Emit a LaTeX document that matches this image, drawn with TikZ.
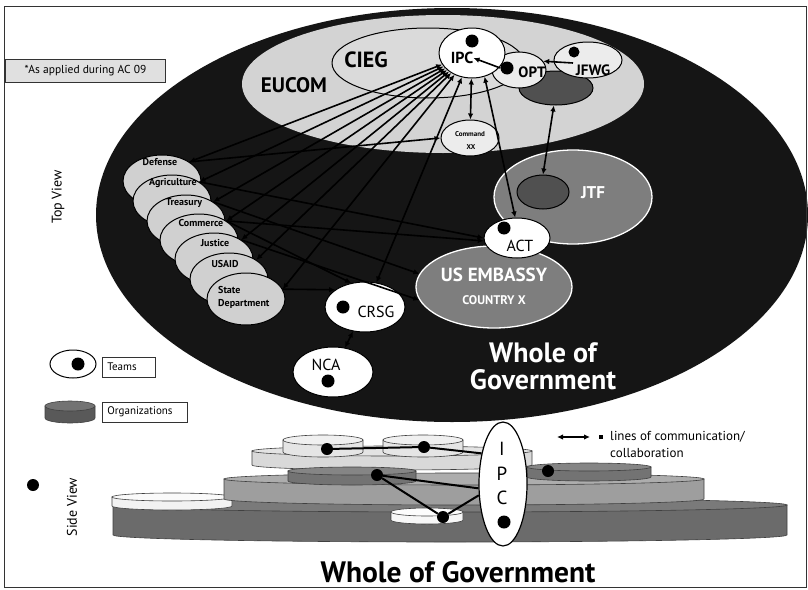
\documentclass[tikz,border=0pt]{standalone}
\usepackage{fontspec}
\setmainfont{PT Sans}
\usetikzlibrary{shapes.geometric,arrows.meta}
\definecolor{bg}{HTML}{151515}
\definecolor{eucom}{HTML}{D3D3D3}
\definecolor{cieg}{HTML}{DADADA}
\definecolor{agencygray}{HTML}{D0D0D0}
\definecolor{orggray}{HTML}{7E7E7E}
\definecolor{darkorg}{HTML}{505050}
\definecolor{lightfill}{HTML}{ECECEC}
\newcommand\orgdisk[7]{%
  \path[draw=black!75, line width=0.6pt, fill=#6] (#1-#2,#3) -- (#1-#2,#3+#5)
     arc[start angle=180, end angle=0, x radius=#2, y radius=#4] -- (#1+#2,#3) -- cycle;
  \path[draw=black!75, line width=0.6pt, fill=#7] (#1,#3) ellipse [x radius=#2, y radius=#4];
}
\begin{document}
\begin{tikzpicture}[x=1pt, y=-1pt,
  ell/.style={ellipse, draw=black, line width=1pt, inner sep=0pt},
  team/.style={ell, fill=white},
  agency/.style={ell, fill=agencygray, minimum width=78, minimum height=52},
  org/.style={ellipse, draw=white, line width=1.3pt, fill=orggray, inner sep=0pt},
  dot/.style={circle, fill=black, inner sep=0pt, minimum size=13},
  sdot/.style={circle, fill=black, inner sep=0pt, minimum size=12},
  link/.style={line width=1.6pt, <->, >={Latex[length=6pt,width=5.5pt]}},
  oneway/.style={line width=1.6pt, ->, >={Latex[length=6pt,width=5.5pt]}},
  sline/.style={line width=2pt, black},
  lbl/.style={inner sep=0pt},
  albl/.style={inner sep=0pt, font=\bfseries\fontsize{10}{10}\selectfont},
  legbox/.style={draw=black!80, line width=0.8pt, inner xsep=5pt, inner ysep=0pt, minimum height=20, align=left, anchor=west, font=\fontsize{11}{12}\selectfont},
]
\useasboundingbox (0,0) rectangle (808,589);
\fill[white] (0,0) rectangle (808,589);

% ---------- top view ----------
\fill[bg] (452,215) ellipse [x radius=356, y radius=207];
\fill[eucom] (443,84) ellipse [x radius=201, y radius=69];
\node[ell, fill=cieg, minimum width=192, minimum height=70] (cieg) at (428,63) {};
\node[ell, fill=darkorg, minimum width=74, minimum height=34] (dark) at (556,88) {};
\node[ell, fill=lightfill, minimum width=54, minimum height=36] (opt) at (519,70) {};
\node[ell, fill=lightfill, minimum width=68, minimum height=36] (jfwg) at (588,60) {};
\node[team, minimum width=66, minimum height=50] (ipc) at (472,53) {};
\node[ell, fill=lightfill, minimum width=58, minimum height=36] (cmd) at (470,138) {};
\node[org, minimum width=158, minimum height=94] (jtf) at (573,197) {};
\node[ell, fill=darkorg, minimum width=52, minimum height=34] (jtfin) at (543,192) {};
\node[org, minimum width=156, minimum height=82] (emb) at (494,287) {};
\node[team, minimum width=66, minimum height=40] (act) at (517,238) {};

\node[agency] (def) at (162,181) {};
\node[agency] (agr) at (172,201) {};
\node[agency] (tre) at (186,221) {};
\node[agency] (com) at (199,240) {};
\node[agency] (jus) at (214,259) {};
\node[agency] (usa) at (229,279) {};
\node[agency] (sta) at (246,299) {};
\node[albl] (deft) at (160,162) {Defense};
\node[albl] (agrt) at (173,183) {Agriculture};
\node[albl] (tret) at (184,203) {Treasury};
\node[albl] (comt) at (201,223) {Commerce};
\node[albl] (just) at (215,243) {Justice};
\node[albl] (usat) at (225,264) {USAID};
\node[albl, align=left, anchor=west, font=\bfseries\fontsize{10}{13}\selectfont] (stat) at (218,297) {State\\Department};

\node[team, minimum width=80, minimum height=50] (crsg) at (365,307) {};
\node[team, minimum width=80, minimum height=50] (nca) at (333,372) {};

% dots
\node[dot] (ipcd) at (472,41) {};
\node[dot] (optd) at (507,68) {};
\node[dot, minimum size=11] (jfwgd) at (574,52) {};
\node[dot] (actd) at (504,228) {};
\node[dot] (crsgd) at (343,307) {};
\node[dot] (ncad) at (328,381) {};

% labels
\node[lbl, font=\bfseries\fontsize{22}{22}\selectfont] (ciegt) at (366,60) {CIEG};
\node[lbl, font=\bfseries\fontsize{21}{21}\selectfont] (eucomt) at (294,85) {EUCOM};
\node[lbl, font=\bfseries\fontsize{16}{16}\selectfont] (ipct) at (462,58) {IPC};
\node[lbl, font=\bfseries\fontsize{15}{15}\selectfont] (optt) at (532,72) {OPT};
\node[lbl, font=\bfseries\fontsize{15}{15}\selectfont] (jfwgt) at (593,70) {JFWG};
\node[lbl, font=\bfseries\fontsize{7}{7}\selectfont] (cmdt) at (470,134) {Command};
\node[lbl, font=\bfseries\fontsize{7}{7}\selectfont] (cmdt2) at (471,147) {XX};
\node[lbl, text=white, font=\bfseries\fontsize{17}{17}\selectfont] (jtft) at (593,193) {JTF};
\node[lbl, font=\fontsize{16}{16}\selectfont] (actt) at (520,246) {ACT};
\node[lbl, text=white, font=\bfseries\fontsize{19}{19}\selectfont] (embt) at (494,275) {US EMBASSY};
\node[lbl, text=white, font=\bfseries\fontsize{12.5}{13}\selectfont] (embt2) at (494,300) {COUNTRY X};
\node[lbl, font=\fontsize{16}{16}\selectfont] (crsgt) at (376,312) {CRSG};
\node[lbl, font=\fontsize{16}{16}\selectfont] (ncat) at (326,365) {NCA};
\node[lbl, text=white, align=center, font=\bfseries\fontsize{28}{27}\selectfont] (wogtop) at (543,366) {Whole of\\Government};

% connectors
\coordinate (jfwgarr) at (573,63);
\draw[link] (ipc) -- (def.35);
\draw[link] (ipc) -- (agr.35);
\draw[link] (ipc) -- (tre.35);
\draw[link] (ipc) -- (com.35);
\draw[link] (ipc) -- (jus.35);
\draw[link] (ipc) -- (usa.35);
\draw[link] (ipc) -- (sta.15);
\draw[link] (ipc) -- (crsg.65);
\draw[link] (ipc) -- (cmd);
\draw[link] (ipc.-62) -- (act.95);
\draw[oneway] (optd.west) -- (ipct.east);
\draw[oneway] (jfwgarr) -- (opt.20);
\draw[link] (dark.-97) -- (jtfin.north);
\draw[link] (crsg) -- (nca);
\draw[oneway] (def.35) -- (cmd.west);
\draw[oneway] (agr.35) -- (act.west);
\draw[oneway] (com.35) -- (act.185);
\draw[oneway] (tre.35) -- (emb.170);
\draw[oneway] (jus.35) -- (emb.190);
\draw[oneway] (com.35) -- (crsg.120);
\draw[oneway] (sta.15) -- (crsg.150);

\node[lbl, rotate=90, font=\fontsize{14}{14}\selectfont] (topview) at (58,197) {Top View};

% ---------- legend ----------
\node[draw=black!80, line width=0.8pt, fill=black!12, inner xsep=6pt, minimum width=160, minimum height=23, anchor=west, align=left, font=\fontsize{11.5}{12}\selectfont] (acbox) at (5,71) {*As applied during AC 09};
\node[ell, fill=white, minimum width=46, minimum height=28] (legteam) at (73,364) {};
\node[dot] (legdot) at (78,364) {};
\node[legbox, text width=43] (teamsbox) at (102,367) {Teams};
\orgdisk{70}{25}{406}{5}{12}{black!65}{black!55}
\node[legbox, text width=75] (orgbox) at (102,412) {Organizations};

% ---------- side view ----------
\orgdisk{450}{337}{505}{7}{30}{black!58}{black!52}
\orgdisk{172}{60}{497}{4}{9}{black!5}{black!2}
\orgdisk{464}{240}{479}{6}{20}{black!38}{black!32}
\orgdisk{392}{140}{451}{5}{14}{black!15}{black!11}
\orgdisk{323}{40}{440}{5}{12}{black!10}{black!6}
\orgdisk{423}{40}{440}{5}{12}{black!10}{black!6}
\orgdisk{352}{64}{471}{4}{10}{black!55}{black!48}
\orgdisk{589}{62}{467}{4}{10}{black!55}{black!48}
\orgdisk{427}{36}{512}{4}{8}{black!3}{black!1}

\node[ell, fill=white, line width=1.2pt, minimum width=48, minimum height=124] (sipc) at (503,484) {};
\node[lbl, font=\fontsize{19}{19}\selectfont] (si) at (502,449) {I};
\node[lbl, font=\fontsize{19}{19}\selectfont] (sp) at (502,474) {P};
\node[lbl, font=\fontsize{19}{19}\selectfont] (sc) at (502,498) {C};
\node[sdot, minimum size=13] (sd0) at (504,522) {};

\node[sdot] (sd1) at (327,449) {};
\node[sdot] (sd2) at (424,447) {};
\node[sdot] (sd3) at (377,475) {};
\node[sdot] (sd4) at (443,517) {};
\node[sdot] (sd5) at (548,471) {};
\draw[sline] (sd1) -- (sd2);
\draw[sline] (sd2) -- (sipc.125);
\draw[sline] (sd3) -- (sipc.190);
\draw[sline] (sd3) -- (sd4);
\draw[sline] (sd4) -- (sipc.205);

\node[lbl, rotate=90, font=\fontsize{14}{14}\selectfont] (sideview) at (72,507) {Side View};
\node[circle, fill=black, inner sep=0pt, minimum size=12] (sidedot) at (33,485) {};

\coordinate (lcl) at (557,437);
\coordinate (lcr) at (590,437);
\draw[link, line width=1.2pt] (lcl) -- (lcr);
\node[fill=black, inner sep=0pt, minimum size=4] (lsq) at (601,437) {};
\node[lbl, anchor=west, font=\fontsize{13}{13}\selectfont] (lct) at (610,437) {lines of communication/};
\node[lbl, anchor=west, font=\fontsize{13}{13}\selectfont] (lct2) at (610,453) {collaboration};

\node[lbl, font=\bfseries\fontsize{29.5}{29.5}\selectfont] (wogbot) at (458,572) {Whole of Government};

% frame
\draw[black!80, line width=1pt] (4,6) rectangle (806,587);
\end{tikzpicture}
\end{document}
